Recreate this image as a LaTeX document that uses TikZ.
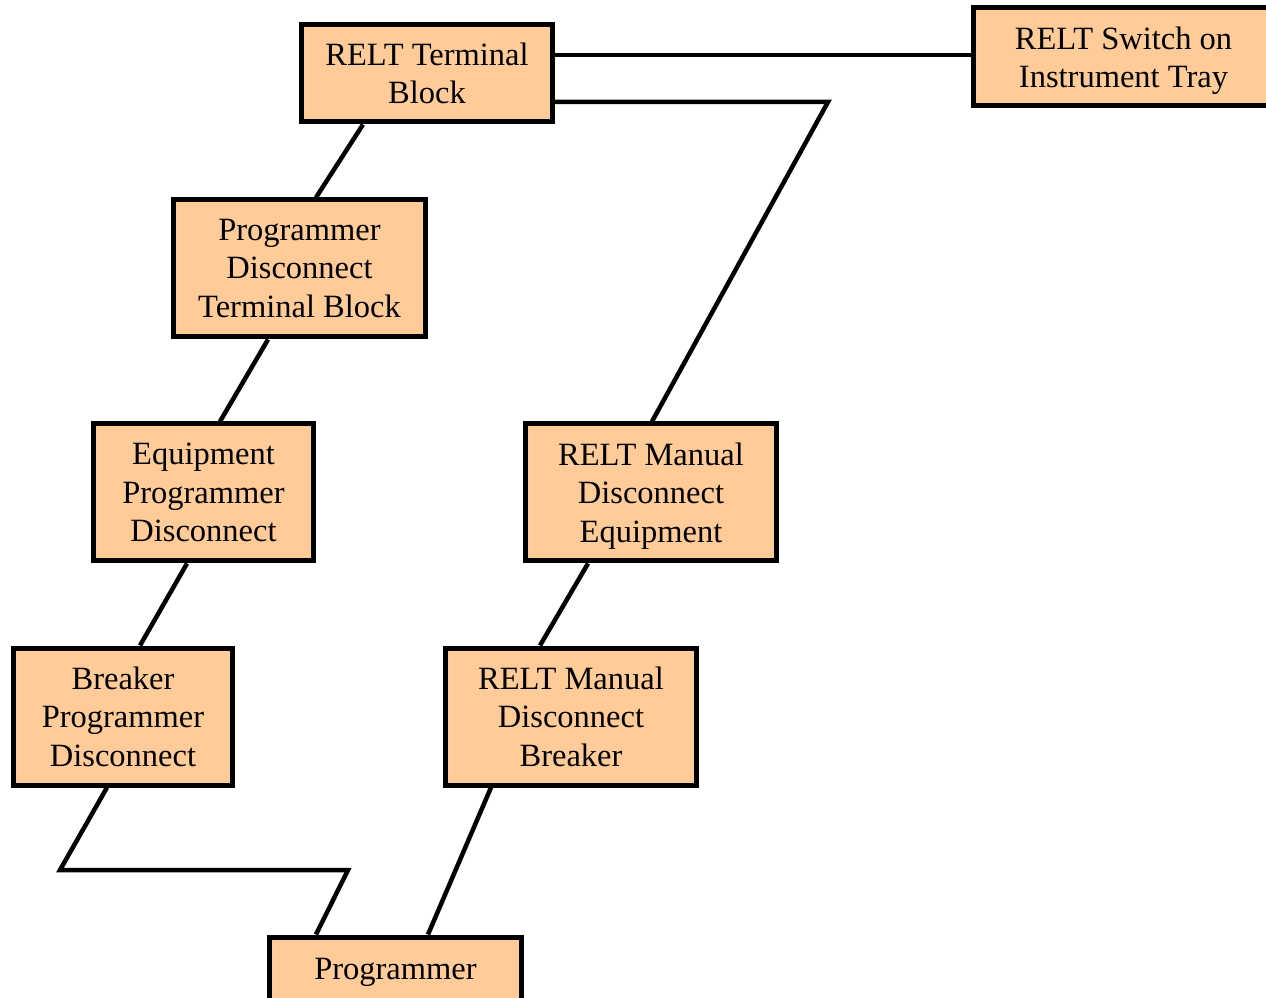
\documentclass[tikz,border=0pt]{standalone}
\usepackage{fontspec}
\setmainfont{Liberation Serif}
\definecolor{boxfill}{HTML}{FFCC99}
\begin{document}
\begin{tikzpicture}[x=1pt,y=1pt,
  box/.style={draw=black,line width=5pt,fill=boxfill,align=center,
    font=\fontsize{32.5}{38.5}\selectfont,inner sep=0pt},
  wire/.style={draw=black,line width=4.5pt}]
\useasboundingbox (0,0) rectangle (1266,997);
\node[box,minimum width=251,minimum height=97] (tb) at (427,923.5) {RELT Terminal\\Block};
\node[box,minimum width=300,minimum height=98] (sw) at (1123.5,940) {RELT Switch on\\\smash{Instrument Tray}};
\node[box,minimum width=252,minimum height=137] (pdtb) at (299.5,728.5) {Programmer\\Disconnect\\Terminal Block};
\node[box,minimum width=220,minimum height=137] (epd) at (203.5,504.5) {Equipment\\Programmer\\Disconnect};
\node[box,minimum width=251,minimum height=137] (rmde) at (651,504.5) {RELT Manual\\Disconnect\\\smash{Equipment}};
\node[box,minimum width=219,minimum height=137] (bpd) at (123,280.5) {Breaker\\Programmer\\Disconnect};
\node[box,minimum width=251,minimum height=137] (rmdb) at (571,280.5) {RELT Manual\\Disconnect\\Breaker};
\node[box,minimum width=252,minimum height=70] (prog) at (395.5,25) {Programmer};
\coordinate (c1) at (828,895);
\coordinate (c2) at (60,127);
\coordinate (c3) at (348,127);
\draw[wire] ([yshift=18.5]tb.east) -- ([yshift=2]sw.west);
\draw[wire] ([yshift=-28.5]tb.east) -- (c1) -- ([xshift=1]rmde.north);
\draw[wire] ([xshift=-64]tb.south) -- ([xshift=16.5]pdtb.north);
\draw[wire] ([xshift=-31.5]pdtb.south) -- ([xshift=16.5]epd.north);
\draw[wire] ([xshift=-16.5]epd.south) -- ([xshift=17]bpd.north);
\draw[wire] ([xshift=-16]bpd.south) -- (c2) -- (c3) -- ([xshift=-79.5]prog.north);
\draw[wire] ([xshift=-80]rmdb.south) -- ([xshift=32.5]prog.north);
\draw[wire] ([xshift=-63]rmde.south) -- ([xshift=-31]rmdb.north);
\end{tikzpicture}
\end{document}
